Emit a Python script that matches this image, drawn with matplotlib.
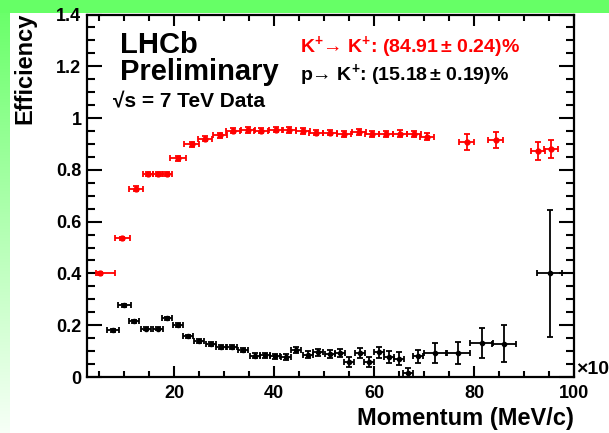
import numpy as np
import matplotlib
matplotlib.use("Agg")
import matplotlib.pyplot as plt
from matplotlib.ticker import MultipleLocator, FixedLocator

plt.rcParams['font.family'] = ['Liberation Sans', 'DejaVu Sans']
plt.rcParams['font.weight'] = 'bold'
plt.rcParams['mathtext.fontset'] = 'custom'
plt.rcParams['mathtext.rm'] = 'Liberation Sans:bold'
plt.rcParams['mathtext.bf'] = 'Liberation Sans:bold'
plt.rcParams['mathtext.it'] = 'Liberation Sans:bold'
plt.rcParams['mathtext.sf'] = 'Liberation Sans:bold'

# K -> K efficiency (red)
k_p = [5.16, 9.51, 12.32, 14.7, 16.7, 18.6, 20.66, 23.47, 26.2, 29.2, 31.7, 34.7, 37.4,
       40.3, 42.9, 45.7, 48.4, 51.2, 53.9, 56.9, 59.6, 62.4, 65.1, 67.9, 70.6,
       78.5, 84.3, 92.7, 95.4]
k_eff = [0.400, 0.535, 0.728, 0.783, 0.783, 0.783, 0.844, 0.899, 0.921, 0.934, 0.951, 0.954, 0.951,
         0.955, 0.954, 0.951, 0.944, 0.944, 0.940, 0.947, 0.940, 0.938, 0.940, 0.938, 0.928,
         0.908, 0.915, 0.873, 0.879]
k_eff_err = [0.006, 0.007, 0.008, 0.008, 0.008, 0.008, 0.008, 0.009, 0.009, 0.010, 0.010, 0.010, 0.010,
             0.010, 0.010, 0.011, 0.011, 0.011, 0.012, 0.012, 0.012, 0.012, 0.013, 0.013, 0.014,
             0.030, 0.032, 0.035, 0.035]
k_p_lo = [0.9, 1.4, 1.4, 1.0, 1.0, 1.0, 1.6, 1.5, 1.4, 1.4, 1.4, 1.4, 1.4,
          1.4, 1.4, 1.4, 1.4, 1.4, 1.4, 1.4, 1.4, 1.4, 1.4, 1.4, 1.4,
          1.5, 1.5, 1.4, 1.4]
k_p_hi = [2.9, 1.6, 1.4, 1.0, 1.0, 1.0, 1.6, 1.5, 1.4, 1.4, 1.4, 1.4, 1.4,
          1.4, 1.4, 1.4, 1.4, 1.4, 1.4, 1.4, 1.4, 1.4, 1.4, 1.4, 1.4,
          1.5, 1.5, 1.4, 1.4]

# p -> K misID (black)
p_p = [7.63, 9.98, 11.99, 14.33, 16.65, 18.46, 20.66, 22.67, 25.01, 27.36, 29.36, 31.57,
       33.69, 36.04, 38.04, 40.05, 42.40, 44.40, 46.73, 48.73, 51.08, 53.08, 54.95, 57.09,
       58.96, 60.96, 62.97, 64.97, 66.78, 68.78, 72.12, 76.80, 81.49, 85.96, 95.19]
p_eff = [0.180, 0.277, 0.216, 0.186, 0.186, 0.226, 0.200, 0.157, 0.139, 0.129, 0.117, 0.116,
         0.104, 0.082, 0.084, 0.080, 0.076, 0.103, 0.086, 0.095, 0.090, 0.092, 0.058, 0.093,
         0.058, 0.095, 0.077, 0.071, 0.015, 0.080, 0.093, 0.093, 0.130, 0.128, 0.400]
p_eff_err = [0.006, 0.006, 0.006, 0.006, 0.006, 0.007, 0.007, 0.007, 0.008, 0.008, 0.008, 0.009,
             0.009, 0.010, 0.010, 0.010, 0.011, 0.012, 0.013, 0.014, 0.015, 0.016, 0.018, 0.020,
             0.020, 0.022, 0.022, 0.024, 0.020, 0.026, 0.037, 0.041, 0.058, 0.071, 0.245]
p_p_err = [1.2, 1.3, 1.0, 1.0, 1.0, 1.0, 1.0, 1.0, 1.0, 1.0, 1.0, 1.0,
           1.0, 1.0, 1.0, 1.0, 1.0, 1.0, 1.0, 1.0, 1.0, 1.0, 1.0, 1.0,
           1.0, 1.0, 1.0, 1.0, 1.0, 1.0, 2.2, 2.3, 2.35, 2.4, 2.5]

W, H = 609, 433
fig = plt.figure(figsize=(W / 100, H / 100), dpi=100)

# green frame: solid strip on top, fading strip on the left
green = np.array([0.4, 1.0, 0.4])
bg = np.ones((H, W, 3))
bg[:13, :, :] = green
t = np.linspace(0, 0.95, H)[:, None]
bg[:, :10, :] = (green[None, :] * (1 - t) + t)[:, None, :]
bg[:13, :10, :] = green
bax = fig.add_axes([0, 0, 1, 1], zorder=0)
bax.imshow(bg, aspect='auto', interpolation='nearest')
bax.axis('off')

ax = fig.add_axes([87 / W, 1 - 377 / H, 487 / W, (377 - 14.5) / H], zorder=1)

ax.errorbar(k_p, k_eff, xerr=[k_p_lo, k_p_hi], yerr=k_eff_err, fmt='o', color='red',
            ecolor='red', markersize=3.5, elinewidth=1.3, capsize=2, capthick=1.3)
ax.errorbar(p_p, p_eff, xerr=p_p_err, yerr=p_eff_err, fmt='o', color='black',
            ecolor='black', markersize=3, elinewidth=1.3, capsize=2, capthick=1.3)

ax.set_xlim(2.5, 100)
ax.set_ylim(0, 1.4)
ax.xaxis.set_major_locator(FixedLocator([20, 40, 60, 80, 100]))
ax.xaxis.set_minor_locator(MultipleLocator(5))
ax.yaxis.set_major_locator(FixedLocator([0, 0.2, 0.4, 0.6, 0.8, 1.0, 1.2, 1.4]))
ax.yaxis.set_minor_locator(MultipleLocator(0.05))
ax.set_yticklabels(['0', '0.2', '0.4', '0.6', '0.8', '1', '1.2', '1.4'])

for s in ax.spines.values():
    s.set_linewidth(1.6)
ax.tick_params(axis='both', which='both', direction='in', top=True, right=True, width=1.5,
               labelsize=13)
ax.tick_params(axis='x', which='major', length=8, pad=6)
ax.tick_params(axis='x', which='minor', length=4)
ax.tick_params(axis='y', which='major', length=11, pad=4)
ax.tick_params(axis='y', which='minor', length=5.5)

fig.text(25 / W, 1 - 13 / H, 'Efficiency', rotation=90, ha='center', va='top', fontsize=17)
fig.text(574 / W, 1 - 418 / H, 'Momentum (MeV/c)', ha='right', va='center', fontsize=17)
fig.text(576 / W, 1 - 370 / H, '×10', ha='left', va='center', fontsize=14)

fig.text(120 / W, 1 - 53 / H, 'LHCb', fontsize=21, va='baseline')
fig.text(120 / W, 1 - 80 / H, 'Preliminary', fontsize=21, va='baseline')
fig.text(113 / W, 1 - 107 / H, '√s = 7 TeV Data', fontsize=15, va='baseline')

fig.text(300 / W, 1 - 52 / H, r'K$^{+}$→ K$^{+}$: (84.91$\,$± 0.24)%', color='red',
         fontsize=14, va='baseline')
fig.text(300 / W, 1 - 80 / H, r'p→ K$^{+}$: (15.18$\,$± 0.19)%', color='black',
         fontsize=14, va='baseline')

fig.savefig('out.png', dpi=100)
